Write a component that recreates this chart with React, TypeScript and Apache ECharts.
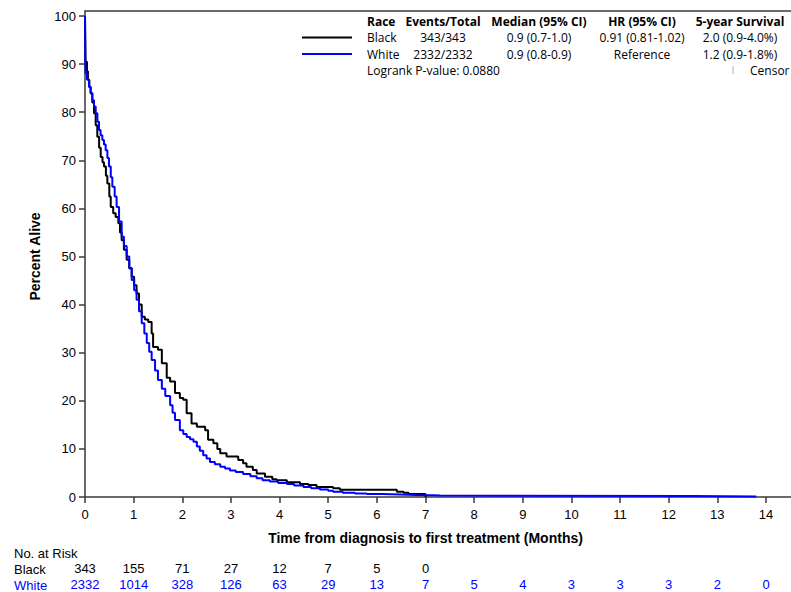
import React, { useEffect, useRef } from 'react';
import * as echarts from 'echarts';

// ---- Data ----
const blackTimes = [0, 0.01, 0.04, 0.06, 0.09, 0.117, 0.15, 0.185, 0.22, 0.253, 0.29, 0.323, 0.36, 0.39, 0.43, 0.459, 0.5, 0.529, 0.58, 0.63, 0.685, 0.72, 0.754, 0.8, 0.857, 0.91, 0.96, 1.01, 1.06, 1.11, 1.166, 1.23, 1.3, 1.37, 1.4, 1.5, 1.58, 1.68, 1.75, 1.85, 1.95, 2.02, 2.09, 2.19, 2.3, 2.47, 2.53, 2.64, 2.72, 2.78, 2.91, 3.15, 3.25, 3.32, 3.45, 3.53, 3.7, 3.85, 3.94, 4.15, 4.42, 4.59, 4.76, 5.1, 5.24, 6.41, 6.55, 6.65, 7.0];
const blackSurv = [100, 90.5, 88.5, 86.7, 85.2, 83.9, 82, 79.8, 77.3, 74.9, 72.6, 70.7, 69.6, 68.7, 66.8, 65.2, 62.5, 60.3, 59, 58.2, 56.9, 55.0, 53.4, 51.4, 49.3, 47.6, 45.8, 44.0, 42.3, 40.0, 37.5, 36.9, 36.4, 34.0, 31.2, 30.6, 27.8, 24.8, 24.0, 21.6, 20.6, 20.2, 17.4, 15.3, 14.6, 13.9, 11.9, 11.2, 10.0, 9.1, 8.4, 7.7, 7.0, 6.3, 5.6, 4.9, 4.2, 3.7, 3.5, 3.05, 2.7, 2.5, 2.1, 1.8, 1.5, 1.1, 0.9, 0.6, 0];

const whiteTimes = [0, 0.01, 0.04, 0.082, 0.115, 0.15, 0.185, 0.22, 0.255, 0.288, 0.32, 0.356, 0.39, 0.425, 0.46, 0.493, 0.53, 0.562, 0.61, 0.65, 0.7, 0.754, 0.8, 0.857, 0.91, 0.96, 1.01, 1.06, 1.11, 1.166, 1.22, 1.27, 1.32, 1.37, 1.44, 1.5, 1.58, 1.65, 1.75, 1.8, 1.85, 1.95, 2.02, 2.09, 2.16, 2.23, 2.3, 2.36, 2.43, 2.5, 2.57, 2.67, 2.78, 2.88, 2.98, 3.1, 3.25, 3.4, 3.53, 3.65, 3.8, 3.97, 4.15, 4.3, 4.49, 4.65, 4.83, 5.0, 5.1, 5.3, 5.55, 5.79, 6.1, 6.48, 6.8, 7.15, 7.3, 12.5, 13.8];
const whiteSurv = [100, 88.1, 86.8, 85.3, 84, 82.5, 81.2, 79.8, 78, 76.3, 75.2, 74.2, 73.3, 72.1, 70.5, 68.7, 66.5, 64.5, 62.5, 60.3, 57.3, 54.1, 52.2, 50.0, 47.5, 45.1, 43.0, 41.0, 38.6, 36.1, 34.0, 32.0, 30.2, 28.5, 26.3, 24.3, 22.5, 21.0, 19.1, 17.5, 16.0, 13.9, 13.1, 12.5, 12.0, 11.5, 10.5, 9.6, 8.7, 8.0, 7.3, 6.8, 6.3, 5.9, 5.5, 5.2, 4.8, 4.3, 3.9, 3.5, 3.2, 2.9, 2.7, 2.4, 2.1, 1.8, 1.55, 1.3, 1.1, 0.9, 0.75, 0.6, 0.5, 0.4, 0.35, 0.3, 0.2, 0.1, 0.1];

const riskBlack = [343, 155, 71, 27, 12, 7, 5, 0];
const riskWhite = [2332, 1014, 328, 126, 63, 29, 13, 7, 5, 4, 3, 3, 3, 2, 0];

const legendHeader = ['Race', 'Events/Total', 'Median (95% CI)', 'HR (95% CI)', '5-year Survival'];
const legendBlack = ['Black', '343/343', '0.9 (0.7-1.0)', '0.91 (0.81-1.02)', '2.0 (0.9-4.0%)'];
const legendWhite = ['White', '2332/2332', '0.9 (0.8-0.9)', 'Reference', '1.2 (0.9-1.8%)'];
const logrankText = 'Logrank P-value: 0.0880';

// ---- Layout ----
const W = 791;
const H = 592;
const GL = 85;
const GT = 16;
const GR = 25;
const GB = 95;
const AXIS_BOTTOM = H - GB;
const FRAME_TOP = 11;
const AXIS_COLOR = '#3a3a3a';
const BLUE = '#0000ff';
const LEG_FONT = '"Open Sans", "Noto Sans", sans-serif';
const AX_FONT = '"Liberation Sans", Arial, sans-serif';

const colCenters = [0, 443, 539, 642, 740];
const rowY = [21, 37.5, 54];

function App() {
  const ref = useRef<HTMLDivElement>(null);

  useEffect(() => {
    document.body.style.margin = '0';
    if (!ref.current) return;
    const chart = echarts.init(ref.current, undefined, { renderer: 'svg' });

    const legendTexts: any[] = [];
    const rows = [legendHeader, legendBlack, legendWhite];
    rows.forEach((row, ri) => {
      row.forEach((txt, ci) => {
        legendTexts.push({
          type: 'text',
          x: ci === 0 ? 367 : colCenters[ci],
          y: rowY[ri],
          style: {
            text: txt,
            fill: '#000',
            font: `${ri === 0 ? 'bold ' : ''}12px ${LEG_FONT}`,
            textAlign: ci === 0 ? 'left' : 'center',
            textVerticalAlign: 'middle',
          },
        });
      });
    });

    const riskAxis = (values: number[], color: string, offset: number) => ({
      type: 'value',
      min: 0,
      max: 14,
      interval: 1,
      position: 'bottom',
      offset,
      axisLine: { show: false },
      axisTick: { show: false },
      splitLine: { show: false },
      axisLabel: {
        interval: 0,
        margin: 0,
        color,
        fontFamily: AX_FONT,
        fontSize: 13,
        formatter: (v: number) => {
          const i = Math.round(v);
          return values[i] !== undefined ? String(values[i]) : '';
        },
      },
    });

    chart.setOption({
      animation: false,
      grid: { left: GL, right: GR, top: GT, bottom: GB, containLabel: false, outerBoundsMode: 'none' },
      xAxis: [
        {
          type: 'value',
          min: 0,
          max: 14,
          interval: 1,
          axisLine: { show: false },
          axisTick: { show: true, length: 6, lineStyle: { color: AXIS_COLOR, width: 1.5 } },
          splitLine: { show: false },
          axisLabel: { interval: 0, margin: 11, color: '#000', fontFamily: AX_FONT, fontSize: 13 },
        },
        riskAxis(riskBlack, '#000', 65),
        riskAxis(riskWhite, BLUE, 81),
      ],
      yAxis: {
        type: 'value',
        min: 0,
        max: 100,
        interval: 10,
        name: 'Percent Alive',
        nameLocation: 'middle',
        nameGap: 43,
        nameTextStyle: { fontFamily: AX_FONT, fontWeight: 'bold', fontSize: 14, color: '#000' },
        axisLine: { show: false },
        axisTick: { show: true, length: 6, lineStyle: { color: AXIS_COLOR, width: 1.5 } },
        splitLine: { show: false },
        axisLabel: { margin: 9, color: '#000', fontFamily: AX_FONT, fontSize: 13 },
      },
      series: [
        {
          name: 'Black',
          type: 'line',
          step: 'end',
          showSymbol: false,
          data: blackTimes.map((t, i) => [t, blackSurv[i]]),
          lineStyle: { color: '#000', width: 2 },
          itemStyle: { color: '#000' },
          z: 3,
        },
        {
          name: 'White',
          type: 'line',
          step: 'end',
          showSymbol: false,
          data: whiteTimes.map((t, i) => [t, whiteSurv[i]]),
          lineStyle: { color: BLUE, width: 2 },
          itemStyle: { color: BLUE },
          z: 4,
        },
      ],
      graphic: [
        {
          type: 'polyline',
          shape: { points: [[W + 5, AXIS_BOTTOM], [GL, AXIS_BOTTOM], [GL, FRAME_TOP], [W + 5, FRAME_TOP]] },
          style: { stroke: AXIS_COLOR, lineWidth: 1.5, fill: null },
          z: 1,
        },
        { type: 'line', shape: { x1: 302, y1: 37.5, x2: 352, y2: 37.5 }, style: { stroke: '#000', lineWidth: 2 } },
        { type: 'line', shape: { x1: 302, y1: 54, x2: 352, y2: 54 }, style: { stroke: BLUE, lineWidth: 2 } },
        ...legendTexts,
        {
          type: 'text', x: 367, y: 70,
          style: { text: logrankText, fill: '#000', font: `12px ${LEG_FONT}`, textAlign: 'left', textVerticalAlign: 'middle' },
        },
        { type: 'line', shape: { x1: 733, y1: 66, x2: 733, y2: 74 }, style: { stroke: '#b0b0b0', lineWidth: 1 } },
        {
          type: 'text', x: 750, y: 70,
          style: { text: 'Censor', fill: '#000', font: `12px ${LEG_FONT}`, textAlign: 'left', textVerticalAlign: 'middle' },
        },
        {
          type: 'text', x: (GL + (W - GR)) / 2, y: 538,
          style: { text: 'Time from diagnosis to first treatment (Months)', fill: '#000', font: `bold 14px ${AX_FONT}`, textAlign: 'center', textVerticalAlign: 'middle' },
        },
        {
          type: 'text', x: 14, y: 553,
          style: { text: 'No. at Risk', fill: '#000', font: `13px ${AX_FONT}`, textAlign: 'left', textVerticalAlign: 'middle' },
        },
        {
          type: 'text', x: 14, y: 569,
          style: { text: 'Black', fill: '#000', font: `13px ${AX_FONT}`, textAlign: 'left', textVerticalAlign: 'middle' },
        },
        {
          type: 'text', x: 14, y: 585,
          style: { text: 'White', fill: BLUE, font: `13px ${AX_FONT}`, textAlign: 'left', textVerticalAlign: 'middle' },
        },
      ],
    });

    return () => {
      chart.dispose();
    };
  }, []);

  return <div ref={ref} style={{ width: W, height: H, background: '#fff' }} />;
}

export default App;
